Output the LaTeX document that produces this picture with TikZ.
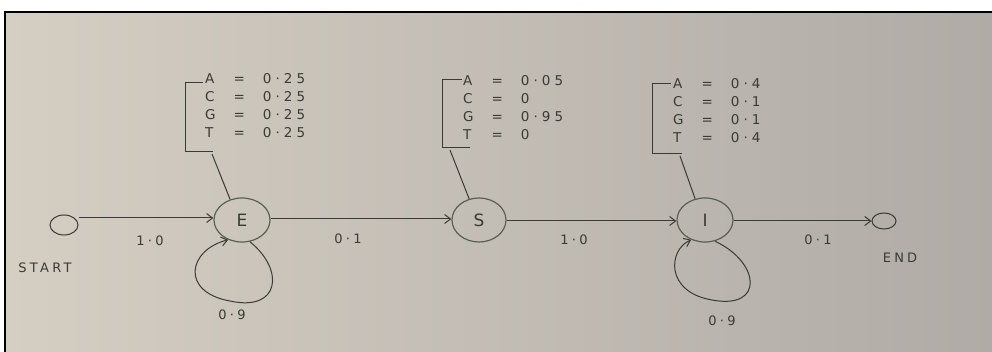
\documentclass[tikz,border=0pt]{standalone}
\usepackage{fontspec}
\setmainfont{DejaVu Sans}
\usetikzlibrary{shapes.geometric,arrows.meta}
\definecolor{ink}{RGB}{58,58,54}
\definecolor{paperL}{RGB}{212,206,195}
\definecolor{paperR}{RGB}{176,171,166}
\definecolor{ring}{RGB}{88,98,80}
\newcommand{\emtab}[1]{\begin{tabular}{@{}l@{\hspace{18pt}}c@{\hspace{18pt}}l@{}}#1\end{tabular}}
\tikzset{
  state/.style={ellipse,draw=ring,line width=1.2pt,minimum width=56pt,minimum height=44pt,inner sep=0pt,font=\fontsize{17}{17}\selectfont,text=ink},
  term/.style={ellipse,draw=ink,line width=1pt,inner sep=0pt},
  edge/.style={draw=ink,line width=1pt,-{Straight Barb[length=6pt,width=9pt]}},
  plain/.style={draw=ink,line width=1pt},
  lbl/.style={font=\fontsize{13}{13}\selectfont\addfontfeature{LetterSpace=25},text=ink},
  emis/.style={font=\fontsize{13.5}{18}\selectfont\addfontfeature{LetterSpace=30},text=ink,anchor=north west,inner sep=0pt}
}
\begin{document}
\begin{tikzpicture}[x=1pt,y=-1pt]
\useasboundingbox (0,0) rectangle (992,352);
\fill[white] (0,0) rectangle (992,352);
\shade[left color=paperL,right color=paperR] (5,12) rectangle (992,352);
\draw[black,line width=1.6pt] (5,352) -- (5,12) -- (992,12);

% nodes
\node[term,minimum width=28pt,minimum height=20pt] (start) at (64,225) {};
\node[state] (E) at (242,220) {E};
\node[state,minimum width=54pt] (S) at (479,220) {S};
\node[state] (I) at (705,220) {I};
\node[term,minimum width=24pt,minimum height=16pt] (end) at (884,221) {};

% emission tables
\node[emis] (tE) at (205,71) {\emtab{A&=&0·25\\C&=&0·25\\G&=&0·25\\T&=&0·25}};
\node[emis] (tS) at (463,73) {\emtab{A&=&0·05\\C&=&0\\G&=&0·95\\T&=&0}};
\node[emis] (tI) at (673,76) {\emtab{A&=&0·4\\C&=&0·1\\G&=&0·1\\T&=&0·4}};

% brackets
\coordinate (bE1) at (203,83); \coordinate (bE2) at (185,83);
\coordinate (bE3) at (185,152); \coordinate (bE4) at (213,152);
\draw[plain] (bE1) -- (bE2) -- (bE3) -- (bE4);
\coordinate (bS1) at (462,80); \coordinate (bS2) at (442,80);
\coordinate (bS3) at (442,148); \coordinate (bS4) at (470,148);
\draw[plain] (bS1) -- (bS2) -- (bS3) -- (bS4);
\coordinate (bI1) at (671,84); \coordinate (bI2) at (652,84);
\coordinate (bI3) at (652,154); \coordinate (bI4) at (682,154);
\draw[plain] (bI1) -- (bI2) -- (bI3) -- (bI4);

% bracket to state
\coordinate (kE) at (212,154);
\coordinate (kS) at (450,150);
\coordinate (kI) at (680,156);
\draw[plain] (kE) -- (E.120);
\draw[plain] (kS) -- (S.115);
\draw[plain] (kI) -- (I.115);

% transitions
\draw[edge] (start.east |- 0,218) -- (E.west |- 0,218);
\draw[edge] (E.east |- 0,219) -- (S.west |- 0,219);
\draw[edge] (S.east |- 0,221) -- (I.west |- 0,221);
\draw[edge] (I.east |- 0,221) -- (end.west);

% self loops
\draw[edge] (E.-70) .. controls (285,270) and (280,312) .. (230,301)
            .. controls (180,292) and (188,250) .. (E.-125);
\draw[edge] (I.-65) .. controls (760,262) and (765,310) .. (712,300)
            .. controls (665,292) and (668,250) .. (I.-125);

% labels
\node[lbl] (l1) at (150,241) {1·0};
\node[lbl] (l2) at (348,239) {0·1};
\node[lbl] (l3) at (574,240) {1·0};
\node[lbl] (l4) at (818,240) {0·1};
\node[lbl] (l5) at (232,315) {0·9};
\node[lbl] (l6) at (722,321) {0·9};
\node[lbl] (st) at (45,268) {START};
\node[lbl] (en) at (900,258) {END};
\end{tikzpicture}
\end{document}
